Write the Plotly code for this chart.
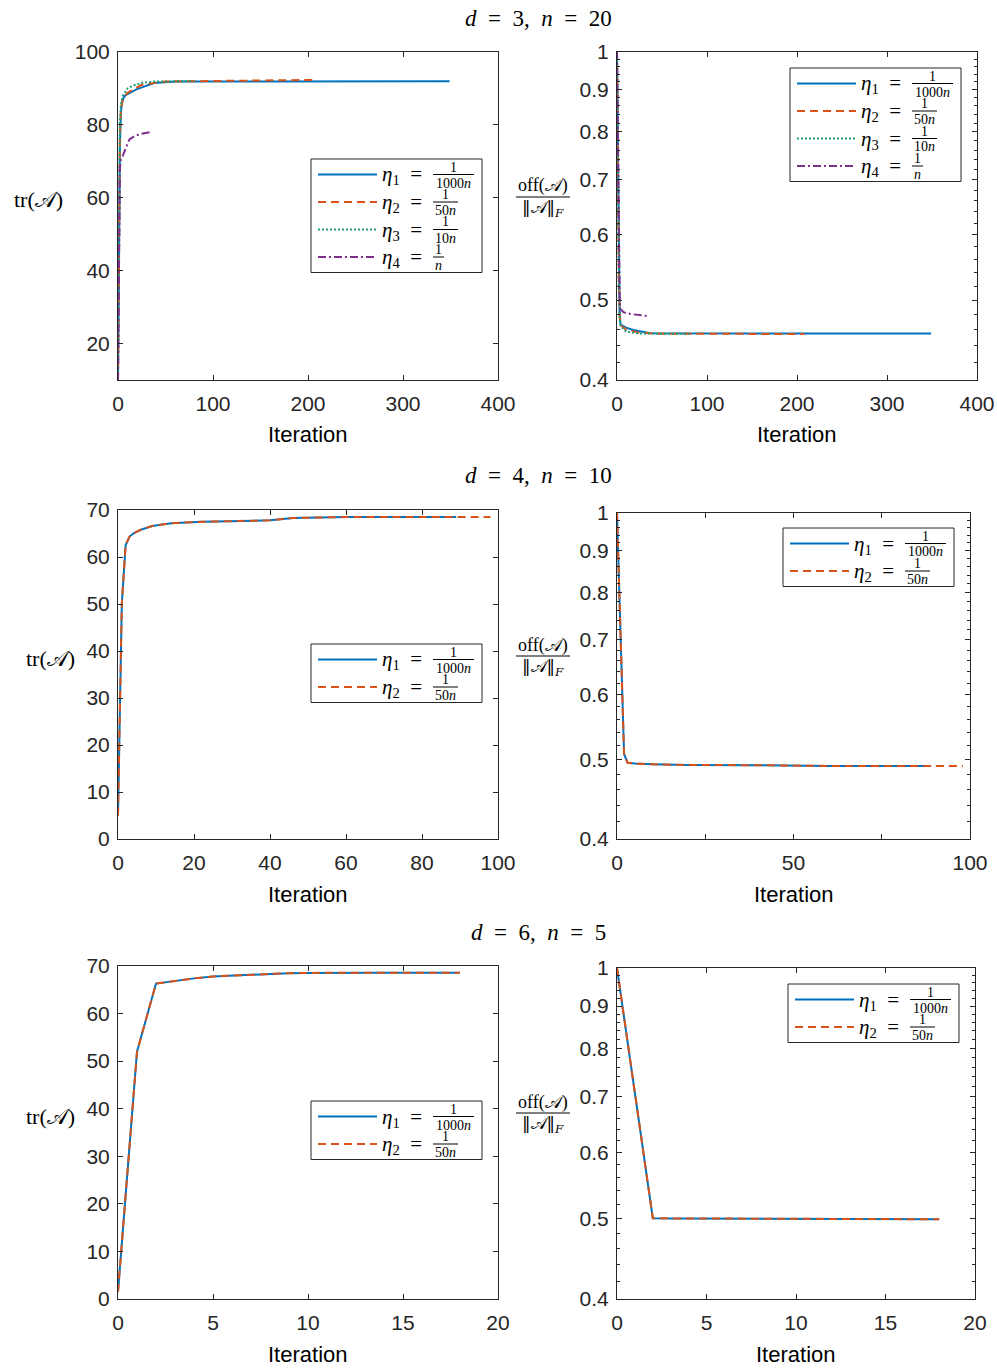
import plotly.graph_objects as go

# ---------------------------------------------------------------------------
# Convergence histories: trace of A and off(A)/||A||_F versus iteration
# ---------------------------------------------------------------------------

# d = 3, n = 20  (four step sizes)
it_d3_eta1 = [0, 1, 2, 3, 4, 6, 8, 20, 38, 60, 349]
tr_d3_eta1 = [10, 50, 74, 83, 86, 87.5, 88.2, 89.8, 91.5, 91.9, 92.0]
it_d3_eta2 = [0, 1, 2, 3, 5, 10, 25, 50, 100, 150, 208]
tr_d3_eta2 = [10, 58, 77, 84, 87, 88.8, 91.0, 91.9, 92.0, 92.1, 92.35]
it_d3_eta3 = [0, 1, 2, 3, 5, 10, 16, 26, 40, 80]
tr_d3_eta3 = [10, 62, 80, 85.5, 88, 90, 90.8, 91.6, 91.9, 92.0]
it_d3_eta4 = [0, 1, 2, 3, 5, 8, 12, 18, 25, 36]
tr_d3_eta4 = [10, 52, 68, 70.5, 71.5, 73.5, 76, 77, 77.6, 78.1]

off_it_d3_eta1 = [0, 1, 2, 3, 4, 10, 18, 37, 349]
off_d3_eta1 = [1.0, 0.72, 0.54, 0.48, 0.467, 0.463, 0.460, 0.4557, 0.4555]
off_it_d3_eta2 = [0, 1, 2, 3, 4, 10, 25, 50, 208]
off_d3_eta2 = [1.0, 0.71, 0.53, 0.478, 0.466, 0.4605, 0.4565, 0.4553, 0.4548]
off_it_d3_eta3 = [0, 1, 2, 3, 4, 10, 25, 80]
off_d3_eta3 = [1.0, 0.70, 0.52, 0.475, 0.465, 0.458, 0.4555, 0.455]
off_it_d3_eta4 = [0, 1, 2, 3, 4, 8, 15, 36]
off_d3_eta4 = [1.0, 0.78, 0.58, 0.50, 0.487, 0.483, 0.481, 0.478]

# d = 4, n = 10  (two step sizes)
it_d4_eta1 = [0, 1, 2, 3, 4, 6, 9, 14, 22, 30, 40, 46, 60, 89]
tr_d4_eta1 = [5, 50, 62.5, 64.3, 65.0, 65.8, 66.6, 67.2, 67.5, 67.6, 67.8, 68.3, 68.5, 68.5]
it_d4_eta2 = [0, 1, 2, 3, 4, 6, 9, 14, 22, 30, 40, 46, 60, 89, 98]
tr_d4_eta2 = [5, 50, 62.5, 64.3, 65.0, 65.8, 66.6, 67.2, 67.5, 67.6, 67.8, 68.3, 68.5, 68.5, 68.5]

off_it_d4_eta1 = [0, 1, 2, 3, 5, 10, 20, 40, 60, 89]
off_d4_eta1 = [1.0, 0.714, 0.508, 0.4955, 0.4945, 0.4935, 0.4925, 0.4922, 0.4912, 0.491]
off_it_d4_eta2 = [0, 1, 2, 3, 5, 10, 20, 40, 60, 89, 98]
off_d4_eta2 = [1.0, 0.714, 0.508, 0.4955, 0.4945, 0.4935, 0.4925, 0.4922, 0.4912, 0.491, 0.491]

# d = 6, n = 5  (two step sizes, identical histories)
it_d6 = list(range(19))
tr_d6_eta1 = [1.5, 52, 66.3, 66.9, 67.4, 67.8, 68.0, 68.2, 68.35, 68.5,
              68.55, 68.6, 68.6, 68.6, 68.6, 68.6, 68.6, 68.6, 68.6]
tr_d6_eta2 = [1.5, 52, 66.3, 66.9, 67.4, 67.8, 68.0, 68.2, 68.35, 68.5,
              68.55, 68.6, 68.6, 68.6, 68.6, 68.6, 68.6, 68.6, 68.6]
off_d6_eta1 = [1.0, 0.707, 0.5002, 0.5, 0.4999, 0.4998, 0.4997, 0.4996, 0.4995, 0.4994,
               0.4993, 0.4992, 0.4991, 0.4991, 0.499, 0.499, 0.4989, 0.4989, 0.4988]
off_d6_eta2 = [1.0, 0.707, 0.5002, 0.5, 0.4999, 0.4998, 0.4997, 0.4996, 0.4995, 0.4994,
               0.4993, 0.4992, 0.4991, 0.4991, 0.499, 0.499, 0.4989, 0.4989, 0.4988]

# tick labels
log_ticks = [0.4, 0.5, 0.6, 0.7, 0.8, 0.9, 1.0]
log_ticktext = ["0.4", "0.5", "0.6", "0.7", "0.8", "0.9", "1"]
log_minor = [0.42, 0.44, 0.46, 0.48, 0.52, 0.54, 0.56, 0.58, 0.62, 0.64, 0.66, 0.68,
             0.72, 0.74, 0.76, 0.78, 0.82, 0.84, 0.86, 0.88, 0.92, 0.94, 0.96, 0.98]

SP = "\u2002"  # en space, keeps math-style gaps around relations
row_titles = [
    f"<i>d</i>{SP}={SP}3,{SP}<i>n</i>{SP}={SP}20",
    f"<i>d</i>{SP}={SP}4,{SP}<i>n</i>{SP}={SP}10",
    f"<i>d</i>{SP}={SP}6,{SP}<i>n</i>{SP}={SP}5",
]
eta_labels = ["1000<i>n</i>", "50<i>n</i>", "10<i>n</i>", "<i>n</i>"]

# ---------------------------------------------------------------------------
# styling
# ---------------------------------------------------------------------------
W, H = 997, 1368
AX = "#262626"
SANS = "Liberation Sans, Arial, sans-serif"
SERIF = "Liberation Serif, Times New Roman, serif"

STYLES = [
    dict(color="#0072BD", dash="solid"),
    dict(color="#D95319", dash="8px,5px"),
    dict(color="#1E9E76", dash="2px,2px"),
    dict(color="#7E2F8E", dash="8px,3px,2px,3px"),
]
LW = 2


def px(x):
    return x / W


def py(y):
    return 1 - y / H


fig = go.Figure()

# axis boxes in pixels: (x0, x1, ytop, ybottom)
boxes = {
    1: (118, 498, 52, 380), 2: (617, 977, 52, 380),
    3: (118, 498, 510, 839), 4: (617, 970, 513, 839),
    5: (118, 498, 966, 1299), 6: (617, 975, 968, 1299),
}


def ax_common():
    return dict(showline=True, linecolor=AX, linewidth=1, mirror="ticks",
                ticks="inside", ticklen=5, tickcolor=AX, tickwidth=1,
                showgrid=False, zeroline=False, automargin=False,
                tickfont=dict(family=SANS, size=21, color=AX))


layout = dict(width=W, height=H, margin=dict(l=0, r=0, t=0, b=0, pad=0, autoexpand=False),
              paper_bgcolor="white", plot_bgcolor="white", showlegend=False)

xspecs = {
    1: dict(range=[0, 400], tickvals=[0, 100, 200, 300, 400]),
    2: dict(range=[0, 400], tickvals=[0, 100, 200, 300, 400]),
    3: dict(range=[0, 100], tickvals=[0, 20, 40, 60, 80, 100]),
    4: dict(range=[0, 100], tickvals=[0, 25, 50, 75, 100], ticktext=["0", "", "50", "", "100"]),
    5: dict(range=[0, 20], tickvals=[0, 5, 10, 15, 20]),
    6: dict(range=[0, 20], tickvals=[0, 5, 10, 15, 20]),
}
yspecs = {
    1: dict(range=[10, 100], tickvals=[20, 40, 60, 80, 100]),
    3: dict(range=[0, 70], tickvals=[0, 10, 20, 30, 40, 50, 60, 70]),
    5: dict(range=[0, 70], tickvals=[0, 10, 20, 30, 40, 50, 60, 70]),
}

for k, (x0, x1, yt, yb) in boxes.items():
    sx = "" if k == 1 else str(k)
    xa = ax_common()
    xa.update(domain=[px(x0), px(x1)], anchor="y" + sx, tickmode="array", ticklabelstandoff=5)
    xa.update(xspecs[k])
    ya = ax_common()
    ya.update(domain=[py(yb), py(yt)], anchor="x" + sx, tickmode="array", ticklabelstandoff=3)
    if k % 2 == 0:
        ya.update(type="log", range=[-0.39794, 0], tickvals=log_ticks, ticktext=log_ticktext,
                  minor=dict(tickmode="array", tickvals=log_minor, ticks="inside",
                             ticklen=3, tickcolor=AX))
    else:
        ya.update(yspecs[k])
    layout["xaxis" + sx] = xa
    layout["yaxis" + sx] = ya


def add_line(k, x, y, s):
    sx = "" if k == 1 else str(k)
    st = STYLES[s]
    fig.add_trace(go.Scatter(x=x, y=y, mode="lines", xaxis="x" + sx, yaxis="y" + sx,
                             line=dict(color=st["color"], dash=st["dash"], width=LW),
                             hoverinfo="skip"))


# d = 3
add_line(1, it_d3_eta1, tr_d3_eta1, 0)
add_line(1, it_d3_eta2, tr_d3_eta2, 1)
add_line(1, it_d3_eta3, tr_d3_eta3, 2)
add_line(1, it_d3_eta4, tr_d3_eta4, 3)
add_line(2, off_it_d3_eta1, off_d3_eta1, 0)
add_line(2, off_it_d3_eta2, off_d3_eta2, 1)
add_line(2, off_it_d3_eta3, off_d3_eta3, 2)
add_line(2, off_it_d3_eta4, off_d3_eta4, 3)
# d = 4
add_line(3, it_d4_eta1, tr_d4_eta1, 0)
add_line(3, it_d4_eta2, tr_d4_eta2, 1)
add_line(4, off_it_d4_eta1, off_d4_eta1, 0)
add_line(4, off_it_d4_eta2, off_d4_eta2, 1)
# d = 6
add_line(5, it_d6, tr_d6_eta1, 0)
add_line(5, it_d6, tr_d6_eta2, 1)
add_line(6, it_d6, off_d6_eta1, 0)
add_line(6, it_d6, off_d6_eta2, 1)

annotations = []
shapes = []


def text(x, y, s, size, family=SERIF, xanchor="center", yanchor="middle"):
    annotations.append(dict(x=px(x), y=py(y), xref="paper", yref="paper", text=s,
                            showarrow=False, xanchor=xanchor, yanchor=yanchor,
                            borderpad=0, font=dict(family=family, size=size, color="black")))


def hline(x0, x1, y, color="black", width=1, dash="solid"):
    shapes.append(dict(type="line", xref="paper", yref="paper",
                       x0=px(x0), x1=px(x1), y0=py(y), y1=py(y),
                       line=dict(color=color, width=width, dash=dash), layer="above"))


# row titles
for yy, t in zip([19, 475, 932], row_titles):
    text(538, yy, t, 23)

# x-axis titles
for k, (x0, x1, yt, yb) in boxes.items():
    text((x0 + x1) / 2, yb + 55, "Iteration", 22, family=SANS)

# y-axis titles: tr(A)
for xx, yy in [(38, 200), (50, 658), (50, 1116)]:
    text(xx, yy, "tr(𝒜)", 22)

# y-axis titles: off(A) / ||A||_F
for yy in [197, 656, 1113]:
    text(543, yy - 11, "off(𝒜)", 18)
    hline(516, 570, yy, width=1)
    text(543, yy + 11, "‖𝒜‖<sub><i>F</i></sub>", 17, family="DejaVu Serif, serif")


# legends
def legend(bx, by, n):
    h = 17 + 27.5 * (n - 1) + 14
    shapes.append(dict(type="rect", xref="paper", yref="paper",
                       x0=px(bx), x1=px(bx + 171), y0=py(by + h), y1=py(by),
                       line=dict(color=AX, width=1), fillcolor="white", layer="above"))
    widths = [41, 25, 25, 11]
    for i in range(n):
        yy = by + 15.5 + 27.5 * i
        st = STYLES[i]
        hline(bx + 7, bx + 66, yy, color=st["color"], width=LW, dash=st["dash"])
        text(bx + 70, yy + 1, f"<i>η</i><sub>{i + 1}</sub>{SP}={SP}", 21, xanchor="left")
        fx0 = bx + 122
        fx1 = fx0 + widths[i]
        hline(fx0, fx1, yy, width=1)
        text((fx0 + fx1) / 2, yy - 7.5, "1", 14)
        text((fx0 + fx1) / 2, yy + 8.5, eta_labels[i], 14)


legend(311, 159, 4)
legend(790, 68, 4)
legend(311, 644, 2)
legend(783, 528, 2)
legend(311, 1101, 2)
legend(788, 984, 2)

layout["annotations"] = annotations
layout["shapes"] = shapes
fig.update_layout(**layout)
fig.write_html("out.html")
